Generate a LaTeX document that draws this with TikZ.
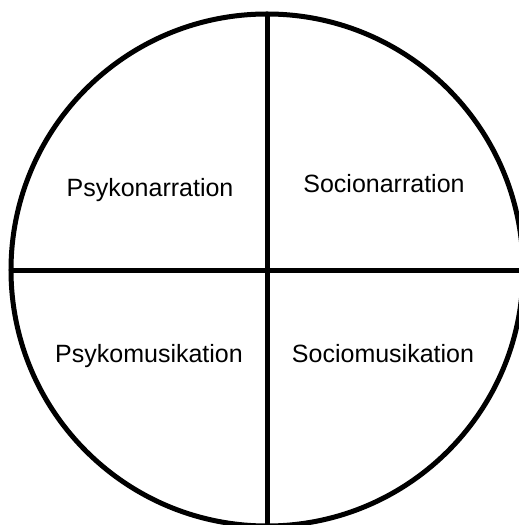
\documentclass[tikz,border=0pt]{standalone}
\usepackage{fontspec}
\setmainfont{Liberation Sans}
\usepackage{tikz}
\usetikzlibrary{positioning}

\tikzset{
    quadlabel/.style={anchor=base,font=\fontsize{25bp}{30bp}\selectfont,inner sep=0pt},
    divider/.style={line width=5bp,black}
}

\begin{document}
\begin{tikzpicture}[x=1bp,y=-1bp]
    \useasboundingbox (0,0) rectangle (519,525);
    \clip (0,0) rectangle (519,525);
    % circle and the two dividing lines
    \coordinate (centre) at (267,270);
    \draw[divider] (centre) circle (256bp);
    \draw[divider] (267,14) -- (267,526);
    \draw[divider] (11,270) -- (523,270);
    % quadrant labels
    \node[quadlabel] (psynarr) at (150,197) {Psykonarration};
    \node[quadlabel] (socnarr) at (384,193) {Socionarration};
    \node[quadlabel] (psymus) at (149,362) {Psykomusikation};
    \node[quadlabel] (socmus) at (383,362) {Sociomusikation};
\end{tikzpicture}
\end{document}
